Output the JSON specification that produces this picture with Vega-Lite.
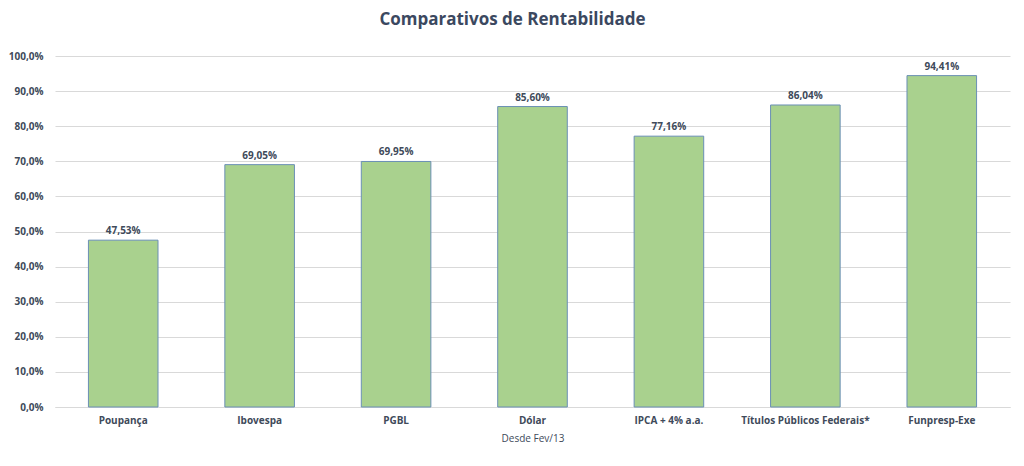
{
  "$schema": "https://vega.github.io/schema/vega-lite/v6.json",
  "autosize": {"type": "none"},
  "width": 955,
  "height": 351,
  "padding": {"left": 55, "top": 56, "right": 14, "bottom": 59},
  "background": "white",
  "config": {
    "locale": {"number": {"decimal": ",", "thousands": ".", "grouping": [3], "currency": ["R$", ""]}},
    "view": {"stroke": null},
    "font": "Open Sans"
  },
  "title": {
    "text": "Comparativos  de Rentabilidade",
    "fontSize": 17,
    "font": "Open Sans",
    "fontWeight": "bold",
    "color": "#3b4860",
    "offset": 22,
    "dx": -20
  },
  "data": {
    "values": [
      {"categoria": "Poupança", "rent": 0.4753},
      {"categoria": "Ibovespa", "rent": 0.6905},
      {"categoria": "PGBL", "rent": 0.6995},
      {"categoria": "Dólar", "rent": 0.8560},
      {"categoria": "IPCA + 4% a.a.", "rent": 0.7716},
      {"categoria": "Títulos Públicos Federais*", "rent": 0.8604},
      {"categoria": "Funpresp-Exe", "rent": 0.9441}
    ]
  },
  "encoding": {
    "x": {
      "field": "categoria",
      "type": "nominal",
      "sort": null,
      "scale": {"paddingInner": 0.49, "paddingOuter": 0.245},
      "axis": {
        "title": "Desde Fev/13",
        "titleFontSize": 10,
        "titleFontWeight": "normal",
        "titleColor": "#404a5a",
        "titlePadding": 8,
        "labelAngle": 0,
        "labelFontSize": 10,
        "labelFontWeight": "bold",
        "labelColor": "#404a5a",
        "labelPadding": 8,
        "ticks": false,
        "domainColor": "#d9d9d9",
        "labelLimit": 200
      }
    },
    "y": {
      "field": "rent",
      "type": "quantitative",
      "scale": {"domain": [0, 1], "nice": false},
      "axis": {
        "title": null,
        "format": ".1%",
        "values": [0, 0.1, 0.2, 0.3, 0.4, 0.5, 0.6, 0.7, 0.8, 0.9, 1.0],
        "labelOverlap": false,
        "labelFontSize": 10,
        "labelFontWeight": "bold",
        "labelColor": "#404a5a",
        "labelPadding": 12,
        "ticks": false,
        "domain": false,
        "gridColor": "#d9d9d9"
      }
    }
  },
  "layer": [
    {
      "mark": {"type": "bar", "fill": "#a9d18e", "stroke": "#6a8fb5", "strokeWidth": 1}
    },
    {
      "mark": {"type": "text", "baseline": "bottom", "dy": -4, "fontSize": 10, "fontWeight": "bold", "color": "#404a5a"},
      "encoding": {"text": {"field": "rent", "type": "quantitative", "format": ".2%"}}
    }
  ]
}
